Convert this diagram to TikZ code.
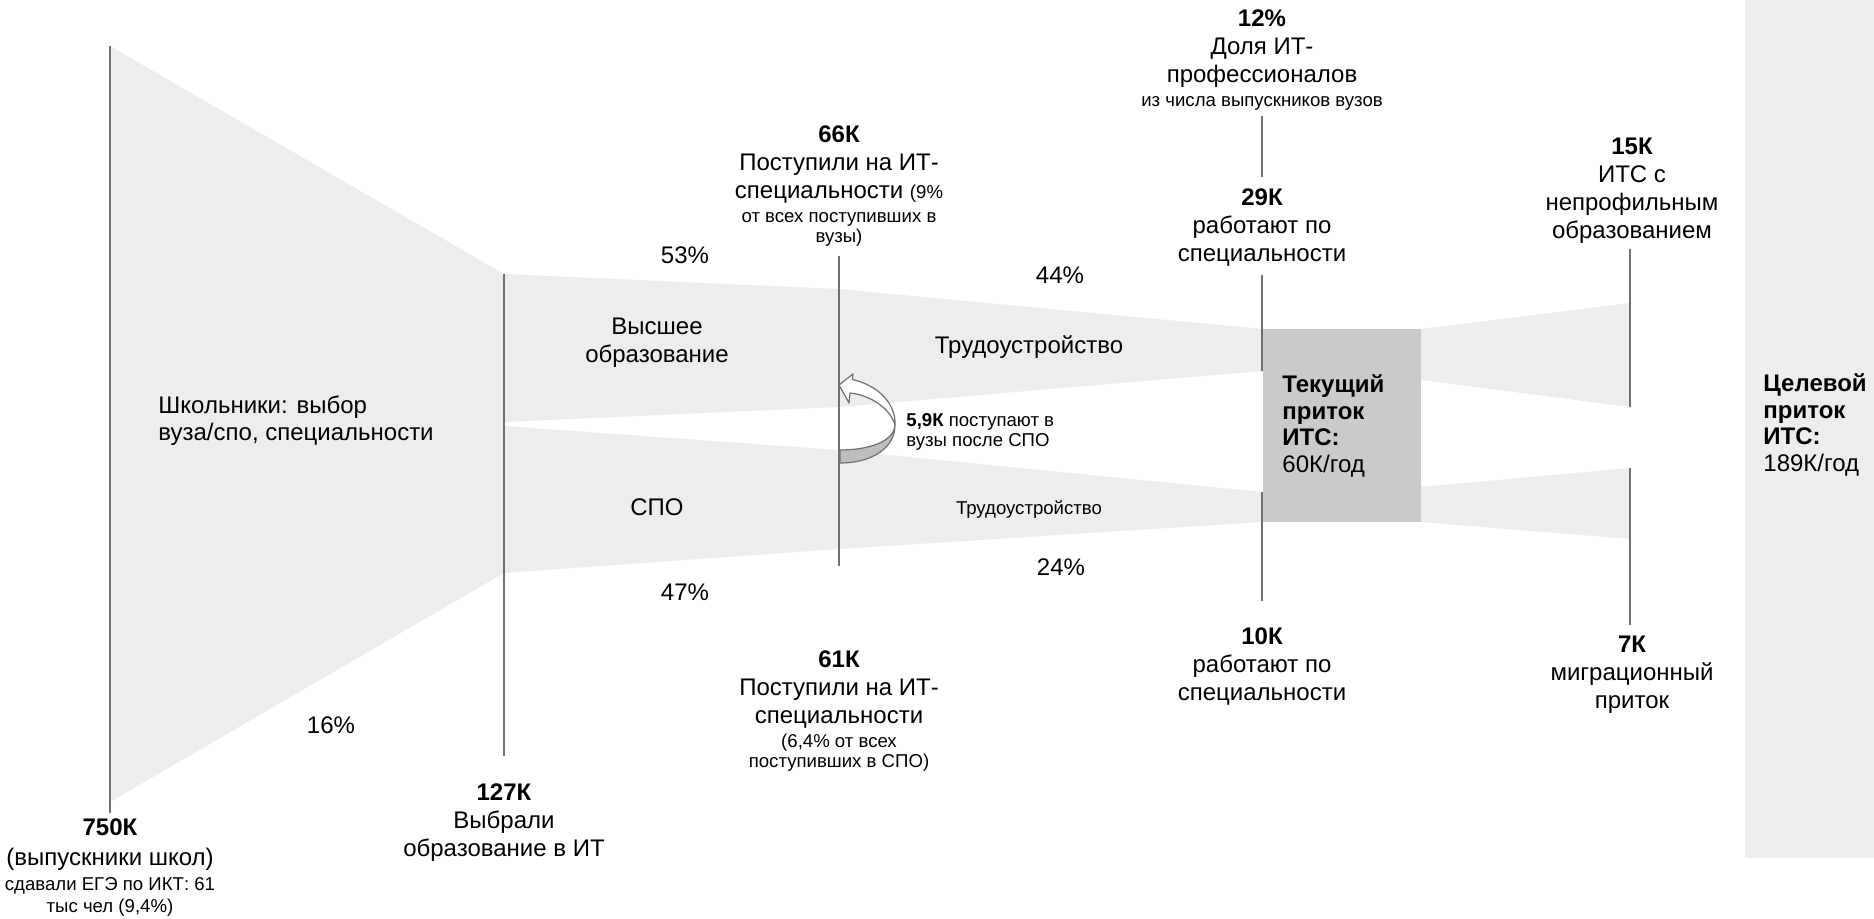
\documentclass[tikz,border=0pt]{standalone}
\usepackage{fontspec}
\setmainfont{Liberation Sans}
\usepackage{xcolor}
\usepackage{tikz}

\definecolor{bandgray}{HTML}{EDEDED}
\definecolor{boxgray}{HTML}{CACACA}
\definecolor{linegray}{HTML}{707070}
\definecolor{ribbongray}{HTML}{BEBEBE}

\newcommand{\bodyfont}{\fontsize{12}{14}\selectfont}
\newcommand{\inflowfont}{\fontsize{12}{13.4}\selectfont}
\newcommand{\notefont}{\fontsize{9.3}{10}\selectfont}

\begin{document}
\begin{tikzpicture}[
    x=0.5pt, y=-0.5pt,
    band/.style={fill=bandgray, draw=none},
    marker/.style={draw=linegray, line width=1pt},
    lbl/.style={inner sep=0pt, align=center, font=\bodyfont},
    note/.style={inner sep=0pt, align=left, font=\notefont, anchor=west},
    inflow/.style={inner sep=0pt, align=left, font=\inflowfont, anchor=west},
    ribbon/.style={draw=linegray, line width=0.6pt, line join=round}
]
    \useasboundingbox (0,0) rectangle (1874,919);

    % ── Целевой столбец (справа) ──
    \fill[bandgray] (1745,0) rectangle (1874,858);

    % ── Полосы потока ──
    \fill[band] (110,46) -- (504,274) -- (504,573) -- (110,802) -- cycle;
    \fill[band] (504,274) -- (839,289) -- (1263,329) -- (1263,371)
                -- (839,407) -- (504,422) -- cycle;
    \fill[band] (504,426) -- (839,450) -- (1263,492) -- (1263,522)
                -- (839,549) -- (504,573) -- cycle;
    \fill[band] (1421,329) -- (1630,303) -- (1630,407) -- (1421,380) -- cycle;
    \fill[band] (1421,487) -- (1630,468) -- (1630,539) -- (1421,522) -- cycle;

    % ── Текущий приток ──
    \node[fill=boxgray, inner xsep=9.5pt, inner ysep=0pt, text width=60pt,
          minimum height=96.5pt, align=left, font=\inflowfont,
          anchor=north west] (Current) at (1263,329)
        {\textbf{Текущий}\\\textbf{приток}\\\textbf{ИТС:}\\60К/год};

    % ── Переход СПО -> вуз ──
    \filldraw[ribbon, fill=white]
        (839,385) -- (853,374) -- (852.5,379.5)
        .. controls (880,386) and (896,405) .. (895,425)
        .. controls (890,408) and (870,395) .. (850,393)
        -- (849,403) -- cycle;
    \filldraw[ribbon, fill=ribbongray]
        (895,425) .. controls (894,442) and (868,450) .. (840,450)
        -- (840,463) .. controls (872,463) and (895,448) .. (895,425) -- cycle;

    % ── Вертикальные отметки ──
    \coordinate (GradTop) at (110,46);
    \coordinate (GradBot) at (110,813);
    \coordinate (ChoiceTop) at (504,274);
    \coordinate (ChoiceBot) at (504,756);
    \coordinate (EnrolTop) at (839,256);
    \coordinate (EnrolBot) at (839,566);
    \coordinate (ShareTop) at (1262,116);
    \coordinate (ShareBot) at (1262,177);
    \coordinate (HiWorkTop) at (1262,275);
    \coordinate (HiWorkBot) at (1262,371);
    \coordinate (SpoWorkTop) at (1262,492);
    \coordinate (SpoWorkBot) at (1262,601);
    \coordinate (OtherTop) at (1630,249);
    \coordinate (OtherBot) at (1630,407);
    \coordinate (MigrTop) at (1630,468);
    \coordinate (MigrBot) at (1630,625);

    \draw[marker] (GradTop) -- (GradBot);
    \draw[marker] (ChoiceTop) -- (ChoiceBot);
    \draw[marker] (EnrolTop) -- (EnrolBot);
    \draw[marker] (ShareTop) -- (ShareBot);
    \draw[marker] (HiWorkTop) -- (HiWorkBot);
    \draw[marker] (SpoWorkTop) -- (SpoWorkBot);
    \draw[marker] (OtherTop) -- (OtherBot);
    \draw[marker] (MigrTop) -- (MigrBot);

    % ── Подписи отметок ──
    \node[lbl] (Share12) at (1262,60)
        {\textbf{12\%}\\Доля ИТ-\\профессионалов\\[-2pt]{\notefont из числа выпускников вузов}};
    \node[lbl] (Work29) at (1262,228) {\textbf{29К}\\работают по\\специальности};
    \node[lbl] (Enter66) at (839,186)
        {\textbf{66К}\\Поступили на ИТ-\\специальности {\notefont (9\%}\\[-2pt]{\notefont от всех поступивших в}\\[-4pt]{\notefont вузы)}};
    \node[lbl] (Enter61) at (839,711)
        {\textbf{61К}\\Поступили на ИТ-\\специальности\\[-2pt]{\notefont (6,4\% от всех}\\[-4pt]{\notefont поступивших в СПО)}};
    \node[lbl] (Work10) at (1262,667) {\textbf{10К}\\работают по\\специальности};
    \node[lbl] (Other15) at (1632,191) {\textbf{15К}\\ИТС с\\непрофильным\\образованием};
    \node[lbl] (Migr7) at (1632,675) {\textbf{7К}\\миграционный\\приток};
    \node[lbl] (Chose127) at (504,823) {\textbf{127К}\\Выбрали\\образование в ИТ};
    \node[lbl] (Grads750) at (110,868)
        {\textbf{750К}\\[1pt](выпускники школ)\\[-1.5pt]{\notefont сдавали ЕГЭ по ИКТ: 61}\\[-3pt]{\notefont тыс чел (9,4\%)}};

    % ── Подписи полос ──
    \node[inflow] (Pupils) at (158,421) {Школьники: выбор\\вуза/спо, специальности};
    \node[lbl] (HigherEd) at (657,343) {Высшее\\образование};
    \node[lbl] (Spo) at (657,507) {СПО};
    \node[lbl] (EmployHi) at (1029,347) {Трудоустройство};
    \node[lbl, font=\notefont] (EmploySpo) at (1029,510) {Трудоустройство};
    \node[note] (Transfer) at (906,432) {\textbf{5,9К} поступают в\\вузы после СПО};
    \node[inflow] (Target) at (1763,425)
        {\textbf{Целевой}\\\textbf{приток}\\\textbf{ИТС:}\\189К/год};

    % ── Доли ──
    \node[lbl] (Pct16) at (331,725) {16\%};
    \node[lbl] (Pct53) at (685,255) {53\%};
    \node[lbl] (Pct47) at (685,592) {47\%};
    \node[lbl] (Pct44) at (1060,275) {44\%};
    \node[lbl] (Pct24) at (1061,567) {24\%};

\end{tikzpicture}
\end{document}
